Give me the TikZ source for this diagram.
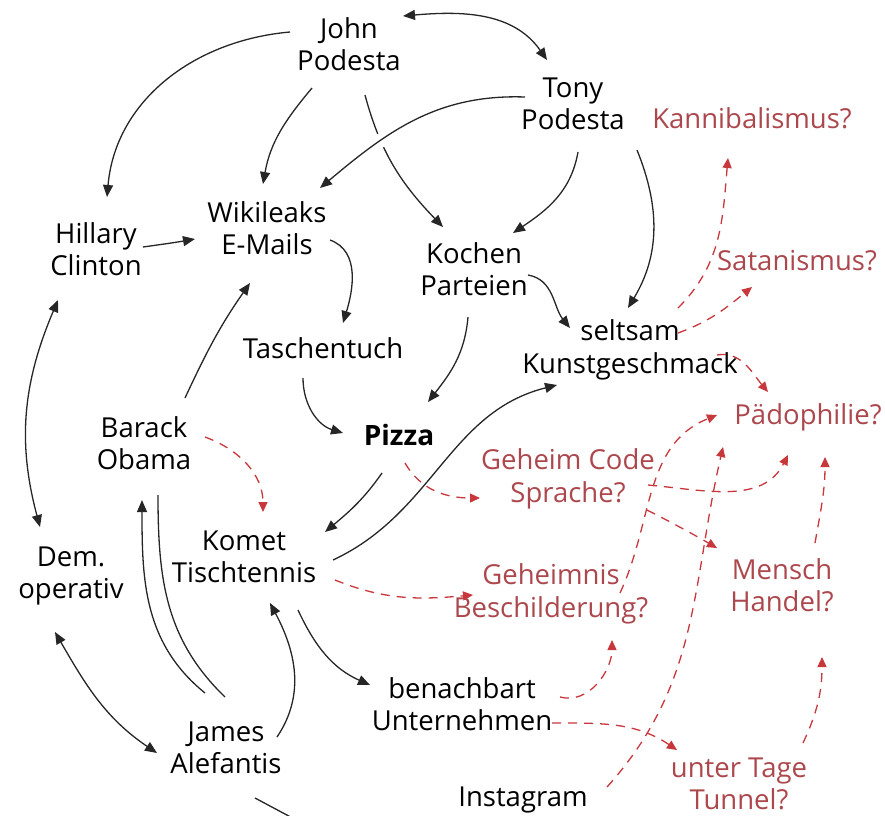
\documentclass[tikz,border=0pt]{standalone}
\usepackage{fontspec}
\setmainfont{Open Sans}
\usetikzlibrary{arrows.meta, calc}
\definecolor{darkred}{RGB}{200,55,60}
\definecolor{redtext}{RGB}{172,72,77}

\begin{document}
\begin{tikzpicture}[x=1pt, y=1pt,
    lbl/.style={align=center, font=\fontsize{27.5}{32.5}\selectfont, inner sep=2pt},
    rlbl/.style={lbl, text=redtext},
    link/.style={line width=1.3pt, draw=black!85, -{Triangle[length=12pt,width=10pt]}},
    both/.style={link, {Triangle[length=12pt,width=10pt]}-{Triangle[length=12pt,width=10pt]}},
    plain/.style={link, -},
    guess/.style={line width=1.3pt, draw=darkred, dash pattern=on 9pt off 7pt, -{Triangle[length=10pt,width=9pt]}}]
    \useasboundingbox (0,0) rectangle (885,-815);

    % people and places
    \node[lbl] (john) at (349,-44) {John\\Podesta};
    \node[lbl] (tony) at (573,-104) {Tony\\Podesta};
    \node[lbl] (hillary) at (96,-249) {Hillary\\Clinton};
    \node[lbl] (wiki) at (267,-228) {Wikileaks\\E-Mails};
    \node[lbl] (kochen) at (474,-269) {Kochen\\Parteien};
    \node[lbl] (seltsam) at (630,-350) {seltsam\\Kunstgeschmack};
    \node[lbl] (tasch) at (323,-348) {Taschentuch};
    \node[lbl] (barack) at (144,-443) {Barack\\Obama};
    \node[lbl, font=\fontsize{28}{32}\selectfont\bfseries] (pizza) at (399,-435) {Pizza};
    \node[lbl] (komet) at (244,-557) {Komet\\Tischtennis};
    \node[lbl] (dem) at (71,-576) {Dem.\\operativ};
    \node[lbl] (benach) at (462,-704) {benachbart\\Unternehmen};
    \node[lbl] (james) at (226,-748) {James\\Alefantis};
    \node[lbl] (insta) at (523,-800) {Instagram};
    \coordinate (cut) at (300,-822);

    % speculation - red
    \node[rlbl] (kanni) at (752,-118) {Kannibalismus?};
    \node[rlbl] (satan) at (797,-261) {Satanismus?};
    \node[rlbl] (paedo) at (808,-417) {Pädophilie?};
    \node[rlbl] (gcode) at (568,-479) {Geheim Code\\Sprache?};
    \node[rlbl] (gnis) at (551,-594) {Geheimnis\\Beschilderung?};
    \node[rlbl] (mensch) at (782,-585) {Mensch\\Handel?};
    \node[rlbl] (tunnel) at (739,-784) {unter Tage\\Tunnel?};

    % solid links
    \draw[both] ($(john)+(54,28)$) to[out=5,in=125] ($(tony)+(-26,44)$);
    \draw[link] ($(john)+(-59,12)$) to[out=185,in=85] ($(hillary)+(11,52)$);
    \draw[link] ($(john)+(-37,-44)$) to[out=230,in=80] ($(wiki)+(-4,44)$);
    \draw[link] ($(john)+(16,-51)$) to[out=-75,in=134] ($(kochen)+(-31,42)$);
    \draw[link, preaction={draw=white, line width=14pt, -}] ($(tony)+(-48,7)$) to[out=178,in=40] ($(wiki)+(53,40)$);
    \draw[link] ($(tony)+(5,-48)$) to[out=-100,in=34] ($(kochen)+(39,36)$);
    \draw[link] ($(tony)+(64,-46)$) to[out=-68,in=59] ($(seltsam)+(-2,42)$);
    \draw[link] ($(hillary)+(47,2)$) to[out=8,in=190] ($(wiki)+(-72,-11)$);
    \draw[link] ($(wiki)+(63,-12)$) to[out=-20,in=73] ($(tasch)+(20,25)$);
    \draw[link] ($(kochen)+(54,-6)$) to[out=-10,in=129] ($(seltsam)+(-60,22)$);
    \draw[link] ($(kochen)+(-6,-48)$) to[out=-95,in=52] ($(pizza)+(29,33)$);
    \draw[link] ($(tasch)+(-20,-30)$) to[out=-90,in=163] ($(pizza)+(-56,2)$);
    \draw[link] ($(pizza)+(-17,-38)$) to[out=-125,in=40] ($(komet)+(81,25)$);
    \draw[link] ($(komet)+(89,-3)$) to[out=25,in=194] ($(seltsam)+(-73,-35)$);
    \draw[link] ($(barack)+(41,45)$) to[out=65,in=235] ($(wiki)+(-17,-55)$);
    \draw[both] ($(hillary)+(-38,-51)$) to[out=247,in=105] ($(dem)+(-31,49)$);
    \draw[both] ($(dem)+(-16,-56)$) to[out=-60,in=146] ($(james)+(-69,-5)$);
    \draw[link] ($(james)+(-21,55)$) to[out=141,in=270] ($(barack)+(-2,-57)$);
    \draw[plain] ($(barack)+(14,-52)$) to[out=-90,in=136] ($(james)+(-1,51)$);
    \draw[link] ($(james)+(51,11)$) to[out=56,in=-62] ($(komet)+(26,-46)$);
    \draw[link] ($(komet)+(54,-53)$) to[out=-65,in=156] ($(benach)+(-92,19)$);
    \draw[plain] ($(james)+(29,-50)$) -- (cut);

    % dashed guesses
    \draw[guess] ($(barack)+(61,6)$) to[out=-20,in=90] ($(komet)+(19,45)$);
    \draw[guess] ($(pizza)+(6,-28)$) to[out=-60,in=180] ($(gcode)+(-88,-19)$);
    \draw[guess] ($(komet)+(91,-23)$) to[out=-22,in=185] ($(gnis)+(-78,-1)$);
    \draw[guess] ($(seltsam)+(48,42)$) to[out=45,in=-95] ($(kanni)+(-24,-40)$);
    \draw[guess] ($(seltsam)+(48,17)$) to[out=20,in=219] ($(satan)+(-45,-26)$);
    \draw[guess] ($(seltsam)+(87,-5)$) to[out=10,in=130] ($(paedo)+(-40,25)$);
    \draw[guess] ($(gnis)+(69,1)$) to[out=65,in=202] ($(paedo)+(-91,2)$);
    \draw[guess] ($(gcode)+(80,-6)$) to[out=-5,in=243] ($(paedo)+(-20,-38)$);
    \draw[guess] ($(gcode)+(79,-31)$) to[out=-27,in=150] ($(mensch)+(-65,37)$);
    \draw[guess] ($(mensch)+(33,42)$) to[out=80,in=-90] ($(paedo)+(17,-40)$);
    \draw[guess] ($(insta)+(84,13)$) to[out=48,in=257] ($(paedo)+(-85,-30)$);
    \draw[guess] ($(benach)+(98,7)$) to[out=-15,in=-90] ($(gnis)+(61,-46)$);
    \draw[guess] ($(benach)+(90,-19)$) to[out=0,in=146] ($(tunnel)+(-62,34)$);
    \draw[guess] ($(tunnel)+(64,41)$) to[out=65,in=-90] ($(mensch)+(40,-72)$);
\end{tikzpicture}
\end{document}
